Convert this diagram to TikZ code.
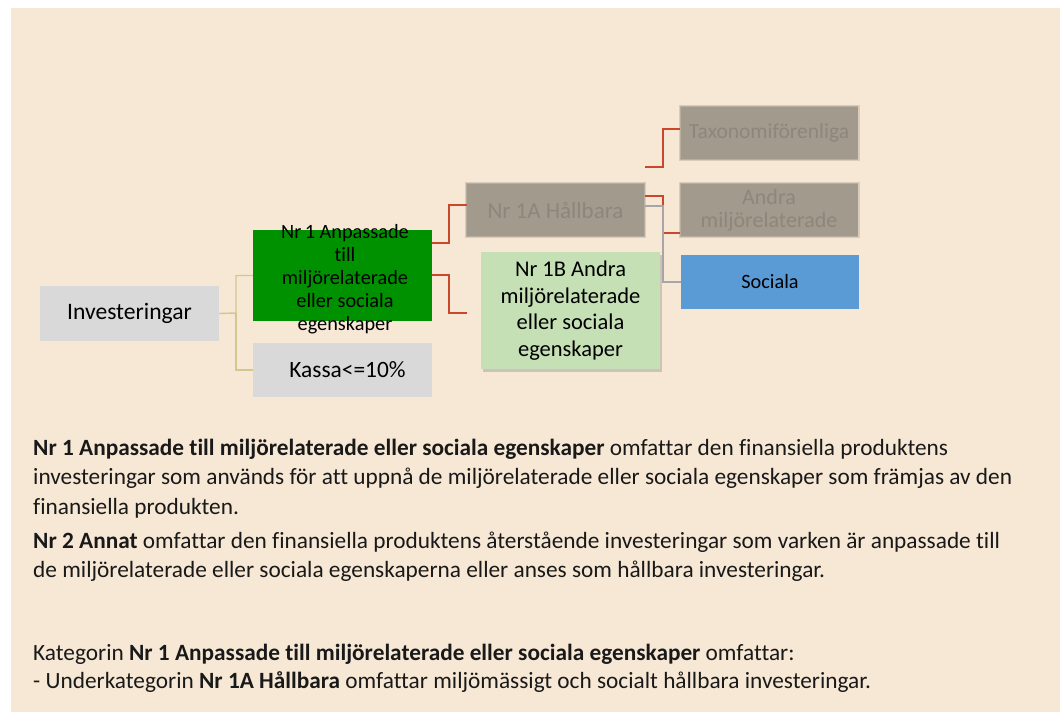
\documentclass[tikz,border=0pt]{standalone}
\usepackage{fontspec}
\setmainfont{Carlito}[Ligatures=NoCommon]
\usetikzlibrary{shadows}
\definecolor{bgcol}{HTML}{F7E8D5}
\definecolor{boxgray}{HTML}{D9D9D9}
\definecolor{deepgreen}{HTML}{009100}
\definecolor{palegreen}{HTML}{C5E0B4}
\definecolor{blurgray}{HTML}{A39A8E}
\definecolor{blurtext}{HTML}{8F867B}
\definecolor{socialblue}{HTML}{5B9BD5}
\definecolor{redline}{HTML}{C9472B}
\definecolor{tanline}{HTML}{D2C78E}
\definecolor{grayline}{HTML}{A6A6A6}
\tikzset{
  plainbox/.style={inner sep=0pt, align=center, text=black},
  blurbox/.style={plainbox, fill=blurgray, text=blurtext,
    minimum width=177pt, minimum height=52pt, font=\fontsize{22}{23}\selectfont,
    preaction={draw=blurgray, line width=4pt, draw opacity=0.35},
    postaction={draw=blurgray, line width=1.5pt, draw opacity=0.6}},
  redconn/.style={draw=redline, line width=1.6pt},
  tanconn/.style={draw=tanline, line width=1.4pt},
  grayconn/.style={draw=grayline, line width=1.2pt},
  bodyline/.style={anchor=base west, inner sep=0pt, font=\fontsize{23.3}{29}\selectfont, text=black!90}
}
\begin{document}
\begin{tikzpicture}[x=1pt,y=-1pt]
\useasboundingbox (0,0) rectangle (1060,712);
\fill[bgcol] (11,8) rectangle (1060,712);

% nodes
\node[plainbox, fill=boxgray, minimum width=179pt, minimum height=55pt, font=\fontsize{23.6}{27}\selectfont] (inv) at (129.5,313.5) {Investeringar};
\node[plainbox, fill=deepgreen, minimum width=179pt, minimum height=91pt] (nr1) at (342.5,275.5) {};
\node[plainbox, font=\fontsize{20.3}{23}\selectfont] (nr1txt) at (345,279) {Nr\,1 Anpassade\\till\\miljörelaterade\\eller sociala\\egenskaper};
\node[plainbox, fill=boxgray, minimum width=179pt, minimum height=54pt, font=\fontsize{23.4}{26}\selectfont] (kassa) at (342.5,370) {\hspace*{10pt}Kassa<=10\%};

\node[blurbox, font=\fontsize{23}{23}\selectfont] (nr1a) at (555.5,210) {Nr 1A Hållbara};
\node[plainbox, fill=palegreen, minimum width=179pt, minimum height=117pt, font=\fontsize{22.5}{26.5}\selectfont,
  drop shadow={shadow xshift=2pt, shadow yshift=-3pt, opacity=0.35}] (nr1b) at (570.5,310.5) {Nr 1B Andra\\miljörelaterade\\eller sociala\\egenskaper};

\node[blurbox, font=\fontsize{21.5}{23}\selectfont] (taxo) at (769,133) {Taxonomiförenliga};
\node[blurbox] (andra) at (769,210) {Andra\\miljörelaterade};
\node[plainbox, fill=socialblue, minimum width=178pt, minimum height=54pt, font=\fontsize{20.3}{24}\selectfont] (soc) at (770,282) {Sociala};

% connectors from Investeringar
\coordinate (tanmid) at (236,313);
\draw[tanconn] (inv.east) -- (tanmid) |- (nr1.west);
\draw[tanconn] (tanmid) |- (kassa.west);

% connectors from Nr 1
\coordinate (r1a) at (432,243);
\coordinate (r1b) at (432,275);
\draw[redconn] (r1a) -| (449,205) -- (nr1a.west |- 0,205);
\coordinate (r1bend) at (467,313);
\draw[redconn] (r1b) -| (449,313) -- (r1bend);

% connectors from Nr 1A
\coordinate (ta) at (645,167);
\draw[redconn] (ta) -| (663,129) -- (taxo.west |- 0,129);
\coordinate (tb) at (645,196);
\draw[redconn] (tb) -| (663,233) -- (andra.west |- 0,233);
\coordinate (tc) at (645,206);
\draw[grayconn] (tc) -| (663,282) -- (soc.west);

% body text
\node[bodyline] (p1a) at (33,455) {\textbf{Nr 1 Anpassade till miljörelaterade eller sociala egenskaper} omfattar den finansiella produktens};
\node[bodyline] (p1b) at (33,484) {investeringar som används för att uppnå de miljörelaterade eller sociala egenskaper som främjas av den};
\node[bodyline] (p1c) at (33,514) {finansiella produkten.};
\node[bodyline] (p2a) at (33,548) {\textbf{Nr 2 Annat} omfattar den finansiella produktens återstående investeringar som varken är anpassade till};
\node[bodyline] (p2b) at (33,577) {de miljörelaterade eller sociala egenskaperna eller anses som hållbara investeringar.};
\node[bodyline] (p3a) at (33,660) {Kategorin \textbf{Nr 1 Anpassade till miljörelaterade eller sociala egenskaper} omfattar:};
\node[bodyline] (p3b) at (33,688) {- Underkategorin \textbf{Nr 1A Hållbara} omfattar miljömässigt och socialt hållbara investeringar.};
\end{tikzpicture}
\end{document}
